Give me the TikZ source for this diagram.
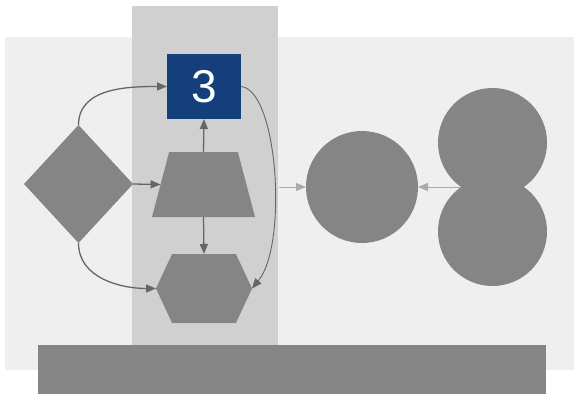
\documentclass[tikz,border=0pt]{standalone}
\usepackage{fontspec}
\setmainfont{Liberation Sans}
\usetikzlibrary{shapes.geometric,shapes.symbols,arrows.meta}
\definecolor{panelbg}{HTML}{EFEFEF}
\definecolor{colbg}{HTML}{D0D0D0}
\definecolor{shapegray}{HTML}{858585}
\definecolor{stepblue}{HTML}{143F7A}
\definecolor{linkdark}{HTML}{666666}
\definecolor{linklight}{HTML}{AAAAAA}
\begin{document}
\begin{tikzpicture}[x=1pt,y=-1pt,
  shapebox/.style={fill=shapegray,draw=none,inner sep=0pt,outer sep=0pt},
  tip/.style={-{Triangle[length=10pt,width=8pt]}},
  link/.style={draw=linkdark,line width=1.3pt,tip},
  thinlink/.style={draw=linkdark,line width=0.9pt,tip},
  softlink/.style={draw=linklight,line width=1pt,tip},
]
\useasboundingbox (0,0) rectangle (574,394);
% backgrounds
\fill[panelbg] (5,37) rectangle (574,370);
\fill[colbg] (132,6) rectangle (278,345);
\fill[shapegray] (38,345) rectangle (546,394);

% shapes
\node[shapebox,diamond,minimum width=109pt,minimum height=118pt] (dia) at (78.5,184) {};
\node[shapebox,inner sep=1pt,trapezium,trapezium stretches=true,trapezium left angle=76,
      trapezium right angle=76,minimum width=103pt,minimum height=65pt] (trap) at (203.5,184.5) {};
\node[shapebox,inner sep=1pt,signal,signal to=west and east,signal pointer angle=130,
      minimum width=96pt,minimum height=69pt] (hex) at (204,288.5) {};
\node[fill=stepblue,minimum width=74pt,minimum height=65pt,inner sep=0pt,outer sep=0pt,
      text=white,font=\fontsize{46}{46}\selectfont] (sq) at (204,86.5) {\raisebox{-2pt}{3}};
\node[shapebox,circle,minimum size=112pt] (mid) at (362,187) {};
\node[shapebox,circle,minimum size=109pt] (top) at (492.5,142.5) {};
\node[shapebox,circle,minimum size=109pt] (bot) at (492.5,231.5) {};

\coordinate (colR) at (279,187);
\coordinate (joint) at (461,187);

% connectors
\draw[link] (dia.north) to[out=90,in=180] (sq.west);
\draw[link] (dia.east) -- (trap.west);
\draw[link] (dia.south) to[out=-90,in=180] (hex.west);
\draw[link] (trap.north) -- (sq.south);
\draw[link] (trap.south) -- (hex.north);
\draw[thinlink] (sq.east) .. controls (278,90) and (288,245) .. (hex.east);
\draw[softlink] (colR) -- (mid.west);
\draw[softlink] (joint) -- (mid.east);
\end{tikzpicture}
\end{document}
